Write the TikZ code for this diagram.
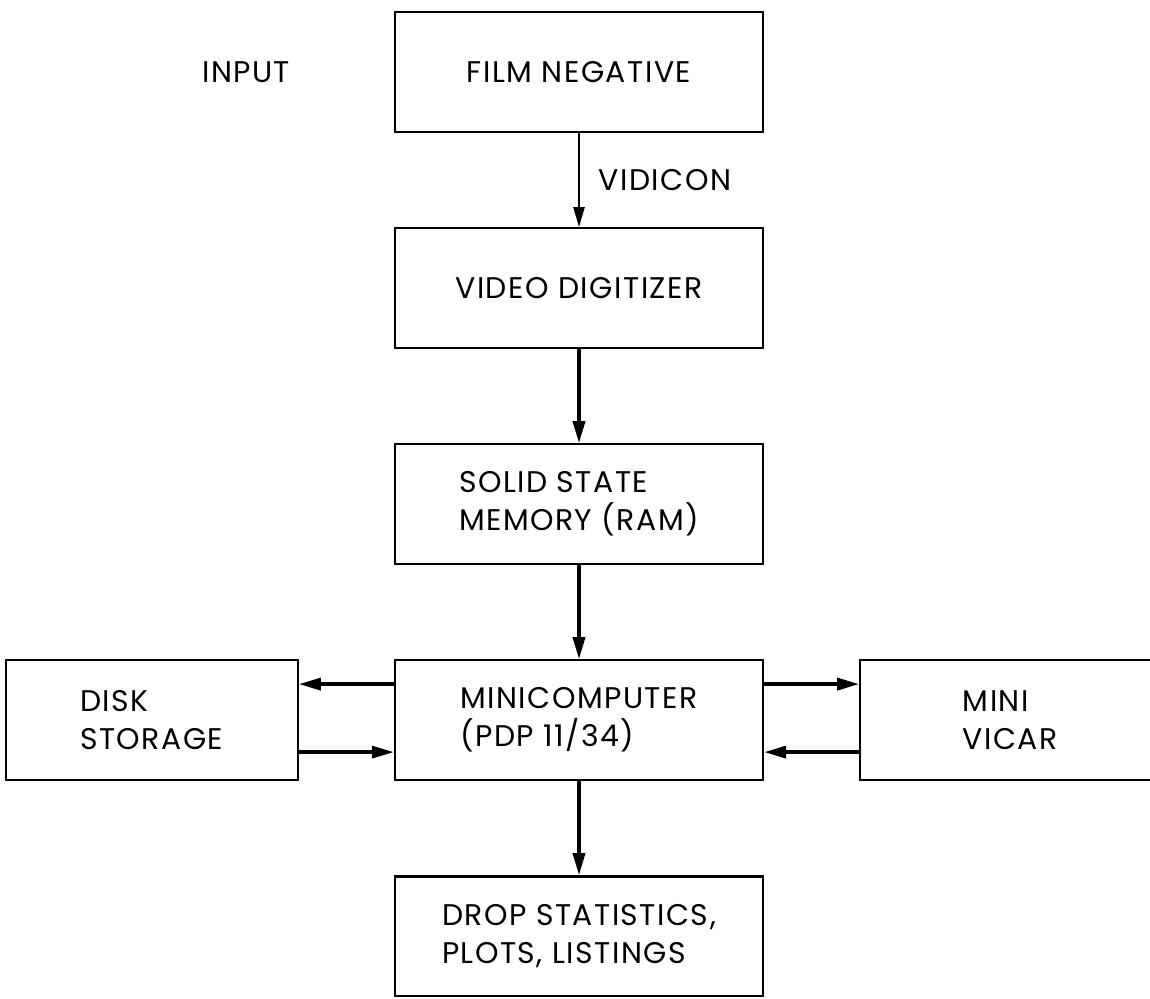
\documentclass[tikz,border=0pt]{standalone}
\usepackage{fontspec}
\setmainfont{Poppins}[LetterSpace=5]
\usepackage{tikz}
\usetikzlibrary{arrows.meta, positioning}
\tikzstyle{block} = [rectangle, minimum width=7.36cm, minimum height=2.39cm, align=left, draw=black, line width=1.3pt, font=\fontsize{17}{21.5}\selectfont]
\tikzstyle{sideblock} = [block, minimum width=5.84cm]
\tikzstyle{arrow} = [line width=2pt, -{Triangle[length=4.4mm, width=2.4mm]}]
\tikzstyle{thinarrow} = [line width=1.4pt, -{Triangle[length=4mm, width=2.2mm]}]

\begin{document}
\begin{tikzpicture}[node distance=1.885cm and 1.9cm]
\useasboundingbox (0,0) rectangle (23,-19.98);

\node (film)  [block] at (11.58,-1.44) {FILM NEGATIVE};
\node (digit) [block, below=of film] {VIDEO DIGITIZER};
\node (mem)   [block, below=of digit] {SOLID STATE\\MEMORY (RAM)};
\node (mini)  [block, below=of mem] {MINICOMPUTER\\(PDP 11/34)};
\node (out)   [block, below=of mini] {DROP STATISTICS,\\PLOTS, LISTINGS};
\node (disk)  [sideblock, left=of mini] {DISK\\STORAGE};
\node (vicar) [block, right=of mini, minimum width=6cm] {MINI\\VICAR};
\node (input) [left=1.95cm of film, font=\fontsize{17}{21.5}\selectfont] {INPUT};

% Setas verticais
\draw [thinarrow] (film) -- node[right=0.25cm, font=\fontsize{17}{21.5}\selectfont] {VIDICON} (digit);
\draw [arrow] (digit) -- (mem);
\draw [arrow] (mem) -- (mini);
\draw [arrow] (mini) -- (out);

% Setas laterais
\draw [arrow] ([yshift=0.72cm]mini.west) -- ([yshift=0.72cm]disk.east);
\draw [arrow] ([yshift=-0.64cm]disk.east) -- ([yshift=-0.64cm]mini.west);
\draw [arrow] ([yshift=0.72cm]mini.east) -- ([yshift=0.72cm]vicar.west);
\draw [arrow] ([yshift=-0.64cm]vicar.west) -- ([yshift=-0.64cm]mini.east);

\end{tikzpicture}
\end{document}
